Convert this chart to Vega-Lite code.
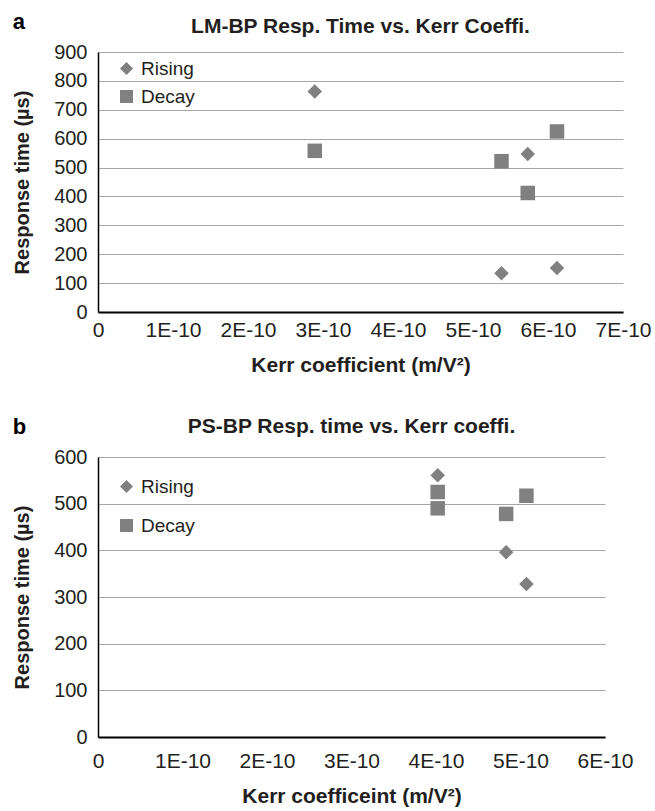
{
  "$schema": "https://vega.github.io/schema/vega-lite/v6.json",
  "padding": {"left": 12, "top": 11, "right": 5, "bottom": 2},
  "background": "white",
  "config": {
    "font": "Liberation Sans",
    "view": {"stroke": null},
    "axis": {
      "labelFontSize": 20,
      "titleFontSize": 21,
      "labelColor": "#231f20",
      "titleColor": "#231f20",
      "titleFontWeight": "bold",
      "ticks": false,
      "domainColor": "#000000",
      "gridColor": "#a6a6a6",
      "gridWidth": 1.2,
      "labelFlush": false,
      "labelOverlap": false
    },
    "axisX": {"grid": false, "domainWidth": 2, "labelFontSize": 21, "labelPadding": 7, "titlePadding": 14},
    "axisY": {"grid": true, "domainWidth": 1.5, "labelPadding": 11, "titlePadding": 21, "titleFontSize": 20},
    "title": {"fontSize": 21, "fontWeight": "bold", "color": "#231f20"},
    "legend": {
      "orient": "none",
      "title": null,
      "labelFontSize": 19,
      "labelColor": "#231f20",
      "symbolSize": 170,
      "symbolStrokeWidth": 0,
      "labelOffset": 5,
      "padding": 0
    }
  },
  "datasets": {
    "lm": [
      {"kerr": 2.89e-10, "time": 763, "series": "Rising"},
      {"kerr": 5.38e-10, "time": 134, "series": "Rising"},
      {"kerr": 5.73e-10, "time": 547, "series": "Rising"},
      {"kerr": 6.12e-10, "time": 152, "series": "Rising"},
      {"kerr": 2.89e-10, "time": 558, "series": "Decay"},
      {"kerr": 5.38e-10, "time": 522, "series": "Decay"},
      {"kerr": 5.73e-10, "time": 412, "series": "Decay"},
      {"kerr": 6.12e-10, "time": 625, "series": "Decay"}
    ],
    "ps": [
      {"kerr": 4.02e-10, "time": 561, "series": "Rising"},
      {"kerr": 4.83e-10, "time": 396, "series": "Rising"},
      {"kerr": 5.07e-10, "time": 328, "series": "Rising"},
      {"kerr": 4.02e-10, "time": 525, "series": "Decay"},
      {"kerr": 4.02e-10, "time": 490, "series": "Decay"},
      {"kerr": 4.83e-10, "time": 478, "series": "Decay"},
      {"kerr": 5.07e-10, "time": 517, "series": "Decay"}
    ]
  },
  "spacing": 41,
  "resolve": {"legend": {"shape": "independent", "color": "independent"}},
  "vconcat": [
    {
      "title": {"text": "a", "anchor": "start", "frame": "bounds", "fontSize": 22, "offset": -18, "color": "#000000"},
      "resolve": {"legend": {"shape": "independent", "color": "independent"}},
      "vconcat": [
        {
          "title": {"text": "LM-BP Resp. Time vs. Kerr Coeffi.", "anchor": "middle", "offset": 5},
          "width": 525,
          "height": 260,
          "data": {"name": "lm"},
          "mark": {"type": "point", "filled": true, "size": 210, "opacity": 1},
          "encoding": {
            "x": {
              "field": "kerr", "type": "quantitative",
              "scale": {"domain": [0, 7e-10], "nice": false},
              "axis": {"values": [0, 1e-10, 2e-10, 3e-10, 4e-10, 5e-10, 6e-10, 7e-10],
                       "labelExpr": "datum.value == 0 ? '0' : round(datum.value * 1e10) + 'E-10'",
                       "title": "Kerr coefficient (m/V²)"}
            },
            "y": {
              "field": "time", "type": "quantitative",
              "scale": {"domain": [0, 900], "nice": false},
              "axis": {"values": [0, 100, 200, 300, 400, 500, 600, 700, 800, 900], "title": "Response time (µs)"}
            },
            "shape": {
              "field": "series", "type": "nominal",
              "scale": {"domain": ["Rising", "Decay"], "range": ["diamond", "square"]},
              "legend": {"legendX": 19, "legendY": 7, "rowPadding": 8}
            },
            "color": {
              "field": "series", "type": "nominal",
              "scale": {"domain": ["Rising", "Decay"], "range": ["#808080", "#808080"]},
              "legend": {"legendX": 19, "legendY": 7, "rowPadding": 8}
            }
          }
        }
      ]
    },
    {
      "title": {"text": "b", "anchor": "start", "frame": "bounds", "fontSize": 22, "offset": -23, "color": "#000000"},
      "resolve": {"legend": {"shape": "independent", "color": "independent"}},
      "vconcat": [
        {
          "title": {"text": "PS-BP Resp. time vs. Kerr coeffi.", "anchor": "middle", "offset": 10},
          "width": 507,
          "height": 280,
          "data": {"name": "ps"},
          "mark": {"type": "point", "filled": true, "size": 210, "opacity": 1},
          "encoding": {
            "x": {
              "field": "kerr", "type": "quantitative",
              "scale": {"domain": [0, 6e-10], "nice": false},
              "axis": {"values": [0, 1e-10, 2e-10, 3e-10, 4e-10, 5e-10, 6e-10],
                       "labelExpr": "datum.value == 0 ? '0' : round(datum.value * 1e10) + 'E-10'",
                       "title": "Kerr coefficeint (m/V²)", "labelPadding": 13}
            },
            "y": {
              "field": "time", "type": "quantitative",
              "scale": {"domain": [0, 600], "nice": false},
              "axis": {"values": [0, 100, 200, 300, 400, 500, 600], "title": "Response time (µs)"}
            },
            "shape": {
              "field": "series", "type": "nominal",
              "scale": {"domain": ["Rising", "Decay"], "range": ["diamond", "square"]},
              "legend": {"legendX": 19, "legendY": 20, "rowPadding": 19}
            },
            "color": {
              "field": "series", "type": "nominal",
              "scale": {"domain": ["Rising", "Decay"], "range": ["#808080", "#808080"]},
              "legend": {"legendX": 19, "legendY": 20, "rowPadding": 19}
            }
          }
        }
      ]
    }
  ]
}
